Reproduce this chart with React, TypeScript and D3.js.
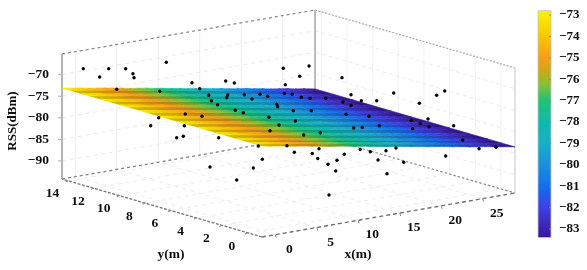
import React, { useEffect, useRef } from 'react'
import * as d3 from 'd3'

const xTicks = [0, 5, 10, 15, 20, 25]
const yTicks = [0, 2, 4, 6, 8, 10, 12, 14]
const zTicks = [-70, -75, -80, -85, -90]
const barTicks = [-73, -74, -75, -76, -77, -78, -79, -80, -81, -82, -83]

const barValues = [-72.8, -74, -75, -75.6, -76.2, -77, -78, -79, -80, -81, -82, -83, -83.4]
const barColors = ['#f8f400', '#f8c800', '#f89c18', '#d0a814', '#8cc030', '#20c474', '#10b8ac', '#14b0c8', '#1c90dc', '#1070ec', '#3c40e8', '#3c22ac', '#38189a']

// fitted surface, rss only changes along x
const surfaceX = [-1.6, -0.5, 0.5, 1.5, 2.5, 3.5, 4.5, 5.5, 6.5, 7.5, 8.5, 9.5, 10.5, 11.5, 12.5, 13.5, 14.5, 15.5, 16.5, 17.5, 18.5, 19.5, 20.5, 21.5, 22.5, 23.5, 24.5, 25.5, 26.5, 27.5, 28.9]
const surfaceZ = [-73.1, -73.5, -73.8, -74.2, -74.5, -74.8, -75.2, -75.5, -75.9, -76.2, -76.5, -76.9, -77.2, -77.6, -77.9, -78.3, -78.6, -78.9, -79.3, -79.6, -80, -80.3, -80.6, -81, -81.3, -81.7, -82, -82.3, -82.7, -83, -83.5]
const surfaceY = [14.5, 13, 11.5, 10, 8.5, 7, 5.5, 4, 2.5, 1, -0.1, -1.1]

// measured points
const pointX = [0.19, 2.17, 1.71, 3.76, 3.09, 3.22, 7.11, 4.22, 7.86, 3.22, 0.01, -0.95, 0.01, -0.91, -0.11, 10.21, 14.23, 14.27, 15.31, 19.67, 21.65, 19.91, 22.77, 25.2, 24.74, 24.44, 24.75, 25.25, 25.25, 24.75, 25.22, 24.25, 26.3, 13.77, 10.99, 10.21, 16.06, 14.39, 18.06, 17.44, 19.95, 19.33, 22.9, 23.84, 23.38, 24.43, 26.33, 26.87, 26.28, 17.33, 15.9, 16.24, 18.41, 21.05, 23.82, 27.37, 26.91, 24.45, 26.41, 25.84, 10.79, 10.21, 3.69, 11.76, 13.41, 9.88, 5.7, 17.34, 18.37, 20.41, 11.76, 8.22, 2.61, 4.29, 6.2, 11.61, 15.03, 16.25, 18.14, 20.89, 27.81, 28.31, 23.79, 20.27, 7.09, 9.25, 9.91, 3.23, 2.14, 1.56, 1.69, 13.11, 12.23, 11.15, 12.08, 9.72, 17.18, 18.26]
const pointY = [14, 14, 13, 13, 12, 12, 12, 14, 13, 8, 8, 8, 6, 6, 6, 12, 14, 12, 12, 11, 11, 11, 11, 10, 9, 8, 7, 6, 4, 3, 2, 2, 2, 13, 11, 10, 13, 12, 13, 12, 13, 12, 13, 13, 12, 12, 12, 11, 10, 10, 9, 8, 8, 7, 7, 6, 5, 4, 4, 1, 9, 8, 7, 7, 6, 5, 3, 4, 4, 4, 3, 2, 5, 3, 2, 3, 2, 2, 2, 3, 1, 0, 1, 2, 2, 2, 2, 2, 2, 5, 3, 2, 2, 2, 2, 1, 2, 2]
const pointZ = [-68.78, -71.36, -68.42, -69.11, -69.18, -70.16, -67.88, -74.9, -75.72, -75.13, -74.91, -76.44, -75.04, -77.52, -77.46, -73.65, -78.12, -74.62, -75.43, -72.62, -75.13, -76.5, -73.12, -75.78, -78.71, -79.14, -78.38, -75.9, -76.57, -79.18, -71.98, -72.65, -80.39, -78.63, -77.23, -77.03, -79.33, -78.53, -79.93, -79.86, -80.47, -79.86, -81.27, -81.74, -81.45, -82.01, -82.67, -82.84, -82.6, -79.32, -78.54, -78.72, -79.44, -80.28, -81.69, -82.94, -82.72, -82.19, -82.38, -82.69, -77.66, -77.16, -74.93, -77.89, -78.44, -77.32, -75.54, -79.65, -79.88, -80.14, -78.01, -76.5, -77.83, -78.59, -78.3, -81.67, -82.14, -83.06, -83.46, -84.61, -85.37, -84.35, -85.72, -86.86, -80.13, -81.13, -82.52, -80.46, -82.12, -84.28, -85.61, -82.61, -83.71, -84.28, -86.14, -90.06, -85.29, -88.84]

const FONT = '"Liberation Serif", serif'

const App = () => {
  const svgRef = useRef<SVGSVGElement>(null)

  useEffect(() => {
    if (!svgRef.current) return
    const svg = d3.select(svgRef.current)
    svg.selectAll('*').remove()

    const xMin = -1.6, xMax = 28.9, yMin = -1.1, yMax = 14.5, zMin = -94.2, zMax = -65.2
    const xScale = d3.scaleLinear().domain([xMin, xMax]).range([0, 1])
    const yScale = d3.scaleLinear().domain([yMin, yMax]).range([0, 1])
    const zScale = d3.scaleLinear().domain([zMin, zMax]).range([0, 125])

    const project = (x: number, y: number, z: number): [number, number] => [
      262 + 253 * xScale(x) - 200 * yScale(y),
      237 - 44 * xScale(x) - 58 * yScale(y) - zScale(z)
    ]

    const colorScale = d3.scaleLinear<string>().domain(barValues).range(barColors)

    const defs = svg.append('defs')
    const blur = defs.append('filter').attr('id', 'soft').attr('x', '-5%').attr('y', '-5%').attr('width', '110%').attr('height', '110%')
    blur.append('feGaussianBlur').attr('stdDeviation', 0.5)

    const barScale = d3.scaleLinear().domain([-73, -83]).range([15, 229])
    const gradient = defs.append('linearGradient').attr('id', 'bar-gradient')
      .attr('x1', 0).attr('y1', 0).attr('x2', 0).attr('y2', 1)
    barValues.forEach((v, i) => {
      gradient.append('stop')
        .attr('offset', (v - barValues[0]) / (barValues[barValues.length - 1] - barValues[0]))
        .attr('stop-color', barColors[i])
    })

    const root = svg.append('g').attr('filter', 'url(#soft)')
    const line = d3.line()

    const seg = (a: [number, number], b: [number, number], stroke: string, width: number, dash?: string) => {
      root.append('path')
        .attr('d', line([a, b]))
        .attr('fill', 'none')
        .attr('stroke', stroke)
        .attr('stroke-width', width)
        .attr('stroke-dasharray', dash || null)
    }

    // walls
    xTicks.forEach(t => seg(project(t, yMax, zMin), project(t, yMax, zMax), '#eeeeee', 1))
    yTicks.forEach(t => seg(project(xMax, t, zMin), project(xMax, t, zMax), '#f2f2f2', 1))
    zTicks.forEach(t => {
      seg(project(xMin, yMax, t), project(xMax, yMax, t), '#e8e8e8', 1, '4 4')
      seg(project(xMax, yMax, t), project(xMax, yMin, t), '#ebebeb', 1, '4 3')
    })

    // floor
    xTicks.forEach(t => seg(project(t, yMin, zMin), project(t, yMax, zMin), '#ececec', 1, '4 4'))
    yTicks.forEach(t => seg(project(xMin, t, zMin), project(xMax, t, zMin), '#ececec', 1, '4 4'))

    // box edges
    seg(project(xMin, yMax, zMax), project(xMax, yMax, zMax), '#8c8c8c', 1.3, '3 3')
    seg(project(xMax, yMax, zMax), project(xMax, yMin, zMax), '#a8a8a8', 1.2, '2 1.5')
    seg(project(xMin, yMax, zMin), project(xMax, yMax, zMin), '#808080', 1.3, '3 3')
    seg(project(xMax, yMax, zMin), project(xMax, yMin, zMin), '#8c8c8c', 1.2, '2.5 2')
    seg(project(xMin, yMin, zMin), project(xMin, yMax, zMin), '#777', 1.3, '3 1.5')
    seg(project(xMin, yMin, zMin), project(xMax, yMin, zMin), '#707070', 1.4, '4 3')
    seg(project(xMin, yMax, zMin), project(xMin, yMax, zMax), '#b4b4b4', 2)
    seg(project(xMax, yMax, zMin), project(xMax, yMax, zMax), '#bcbcbc', 2)
    seg(project(xMax, yMin, zMin), project(xMax, yMin, zMax), '#d8d8d8', 1.5)

    // z ticks on the left wall
    zTicks.forEach(t => {
      const [sx, sy] = project(xMin, yMax, t)
      seg([sx - 4, sy], [sx - 1, sy], '#aaa', 1)
      root.append('text')
        .attr('x', sx - 13)
        .attr('y', sy + 0.5)
        .attr('text-anchor', 'end')
        .attr('dominant-baseline', 'middle')
        .attr('font-family', FONT)
        .attr('font-weight', 700)
        .attr('font-size', 13.5)
        .attr('fill', '#111')
        .text(`\u2212${Math.abs(t)}`)
    })

    // surface
    const plane = root.append('g')
    surfaceY.slice(0, -1).forEach((y0, r) => {
      const y1 = surfaceY[r + 1]
      surfaceX.slice(0, -1).forEach((x0, c) => {
        const x1 = surfaceX[c + 1]
        const z0 = surfaceZ[c], z1 = surfaceZ[c + 1]
        const quad = [project(x0, y0, z0), project(x1, y0, z1), project(x1, y1, z1), project(x0, y1, z0)]
        const fill = colorScale((z0 + z1) / 2)
        plane.append('path')
          .attr('d', `${line(quad)}Z`)
          .attr('fill', fill)
          .attr('stroke', fill)
          .attr('stroke-width', 0.6)
      })
      // darker band along each mesh row
      const yMid = y0 - (y0 - y1) * 0.45
      const top = surfaceX.map((x, c) => project(x, yMid, surfaceZ[c]))
      const bottom = surfaceX.map((x, c) => project(x, y1, surfaceZ[c])).reverse()
      plane.append('path')
        .attr('d', `${line([...top, ...bottom])}Z`)
        .attr('fill', '#000')
        .attr('opacity', 0.18)
    })

    // measured points
    root.append('g').selectAll('circle')
      .data(pointX.map((x, i) => ({ x, y: pointY[i], z: pointZ[i] })))
      .enter()
      .append('circle')
      .attr('cx', d => project(d.x, d.y, d.z)[0])
      .attr('cy', d => project(d.x, d.y, d.z)[1])
      .attr('r', 1.7)
      .attr('fill', '#000')

    // axis labels
    const label = (x: number, y: number, text: string, size = 13.5) => root.append('text')
      .attr('x', x)
      .attr('y', y)
      .attr('text-anchor', 'middle')
      .attr('dominant-baseline', 'middle')
      .attr('font-family', FONT)
      .attr('font-weight', 700)
      .attr('font-size', size)
      .attr('fill', '#111')
      .text(text)

    xTicks.forEach(t => {
      const [sx, sy] = project(t, yMin, zMin)
      seg([sx, sy], [sx + 1, sy + 3], '#888', 1)
      label(sx + 14, sy + 15, `${t}`)
    })
    yTicks.forEach(t => {
      const [sx, sy] = project(xMin, t, zMin)
      seg([sx, sy], [sx - 3, sy + 1], '#888', 1)
      label(sx - 16, sy + 13.5, `${t}`)
    })
    label(171, 255, 'y(m)')
    label(358, 255, 'x(m)')
    root.append('text')
      .attr('transform', 'translate(13,121) rotate(-90)')
      .attr('text-anchor', 'middle')
      .attr('dominant-baseline', 'middle')
      .attr('font-family', FONT)
      .attr('font-weight', 700)
      .attr('font-size', 13)
      .attr('fill', '#111')
      .text('RSS(dBm)')

    // colorbar
    root.append('rect')
      .attr('x', 538)
      .attr('y', barScale(barValues[0]))
      .attr('width', 13)
      .attr('height', barScale(barValues[barValues.length - 1]) - barScale(barValues[0]))
      .attr('fill', 'url(#bar-gradient)')
      .attr('stroke', '#c4c4c4')
      .attr('stroke-width', 0.8)
    barTicks.forEach(t => {
      seg([549, barScale(t)], [551, barScale(t)], '#888', 0.8)
      root.append('text')
        .attr('x', 559)
        .attr('y', barScale(t) + 0.5)
        .attr('dominant-baseline', 'middle')
        .attr('font-family', FONT)
        .attr('font-weight', 700)
        .attr('font-size', 13)
        .attr('fill', '#111')
        .text(`\u2212${Math.abs(t)}`)
    })
  }, [])

  return (
    <svg
      ref={svgRef}
      width={587}
      height={270}
      style={{ position: 'absolute', left: 0, top: 0, display: 'block', background: '#fff' }}
    />
  )
}

export default App
